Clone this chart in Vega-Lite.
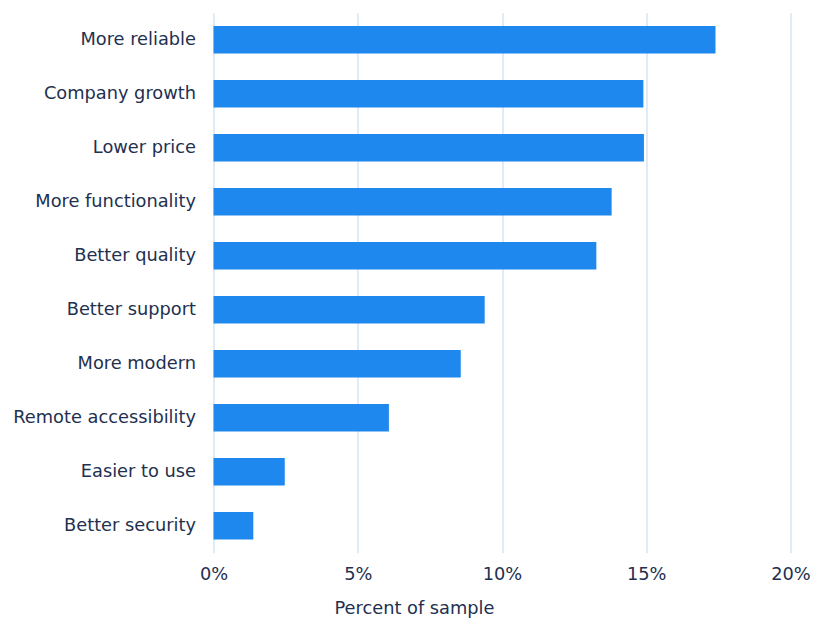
{
  "$schema": "https://vega.github.io/schema/vega-lite/v6.json",
  "width": 577,
  "height": 540,
  "autosize": {"type": "none"},
  "padding": {"left": 213.5, "top": 12.7, "right": 24.5, "bottom": 65.3},
  "background": "white",
  "data": {
    "values": [
      {"reason": "More reliable", "share": 0.174},
      {"reason": "Company growth", "share": 0.149},
      {"reason": "Lower price", "share": 0.1492},
      {"reason": "More functionality", "share": 0.138},
      {"reason": "Better quality", "share": 0.1327},
      {"reason": "Better support", "share": 0.094},
      {"reason": "More modern", "share": 0.0857},
      {"reason": "Remote accessibility", "share": 0.0608},
      {"reason": "Easier to use", "share": 0.0247},
      {"reason": "Better security", "share": 0.0138}
    ]
  },
  "mark": {"type": "bar", "color": "#1e88ee"},
  "encoding": {
    "y": {
      "field": "reason",
      "type": "nominal",
      "sort": null,
      "scale": {"paddingInner": 0.49, "paddingOuter": 0.245},
      "axis": {
        "title": null,
        "domain": false,
        "ticks": false,
        "grid": false,
        "labelPadding": 18,
        "labelLimit": 400,
        "labelFont": "DejaVu Sans",
        "labelFontSize": 17.8,
        "labelColor": "#22304f"
      }
    },
    "x": {
      "field": "share",
      "type": "quantitative",
      "scale": {"domain": [0, 0.2], "nice": false},
      "axis": {
        "title": "Percent of sample",
        "values": [0, 0.05, 0.1, 0.15, 0.2],
        "format": ".0%",
        "domain": false,
        "ticks": false,
        "grid": true,
        "gridColor": "#cbdcf3",
        "gridWidth": 1.2,
        "labelPadding": 13,
        "labelFont": "DejaVu Sans",
        "labelFontSize": 17.8,
        "labelColor": "#22304f",
        "labelFlush": false,
        "titleFont": "DejaVu Sans",
        "titleFontSize": 17.8,
        "titleFontWeight": "normal",
        "titleColor": "#22304f",
        "titleX": 200.5,
        "titleAnchor": null,
        "titleAlign": "center",
        "titlePadding": 16
      }
    }
  },
  "config": {"view": {"stroke": null}}
}
